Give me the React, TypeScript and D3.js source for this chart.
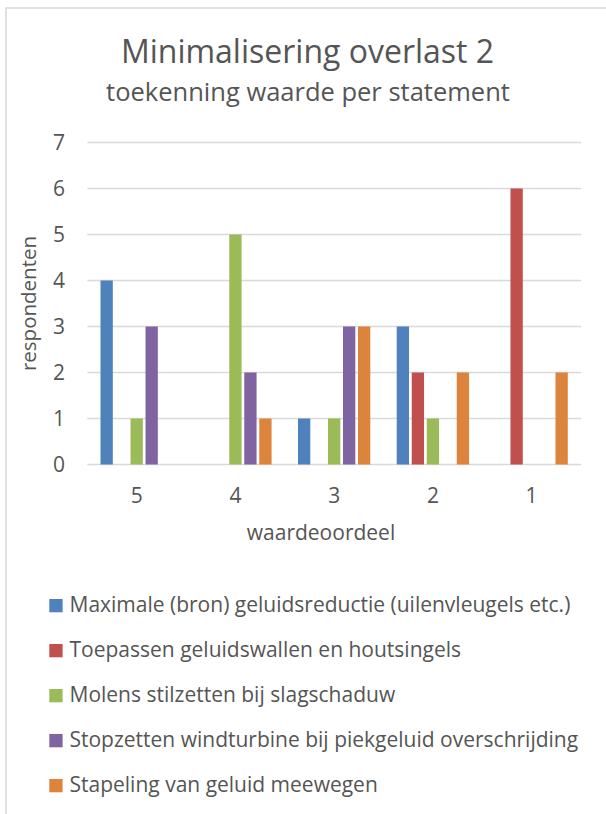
import React from 'react';
import * as d3 from 'd3';

// waardeoordeel categories (x axis, left to right)
const categories = ['5', '4', '3', '2', '1'];

const seriesNames = [
  'Maximale (bron) geluidsreductie (uilenvleugels etc.)',
  'Toepassen geluidswallen en houtsingels',
  'Molens stilzetten bij slagschaduw',
  'Stopzetten windturbine bij piekgeluid overschrijding',
  'Stapeling van geluid meewegen',
];

const seriesColors = ['#4F81BD', '#C0504D', '#9BBB59', '#8064A2', '#DD843C'];

// respondenten per category, one array per series
const maximale = [4, 0, 1, 3, 0];
const toepassen = [0, 0, 0, 2, 6];
const molens = [1, 5, 1, 1, 0];
const stopzetten = [3, 2, 3, 0, 0];
const stapeling = [0, 1, 3, 2, 2];

const seriesValues = [maximale, toepassen, molens, stopzetten, stapeling];

const yTicks = [0, 1, 2, 3, 4, 5, 6, 7];

const W = 606;
const H = 814;
const plot = { left: 87.3, right: 581, top: 142.5, bottom: 464.5 };
const textColor = '#555555';
const gridColor = '#D9D9D9';
const font = '"Open Sans", sans-serif';

export default function App() {
  const x = d3.scaleBand<string>().domain(categories).range([plot.left, plot.right]);
  const inner = d3
    .scaleBand<string>()
    .domain(seriesNames)
    .range([0, x.bandwidth()])
    .paddingInner(0.18)
    .paddingOuter(0.88);
  const y = d3.scaleLinear().domain([0, 7]).range([plot.bottom, plot.top]);

  return (
    <svg
      width={W}
      height={H}
      style={{ position: 'absolute', left: 0, top: 0, background: '#fff' }}
      fontFamily={font}
    >
      <rect x={6} y={8} width={W + 20} height={H + 20} fill="#fff" stroke={gridColor} strokeWidth={1.5} />

      <text x={307.5} y={63} textAnchor="middle" fontSize={32} fill={textColor}>
        Minimalisering overlast 2
      </text>
      <text x={308} y={101} textAnchor="middle" fontSize={25.5} fill={textColor}>
        toekenning waarde per statement
      </text>

      {/* gridlines + y labels */}
      {yTicks.map(t => (
        <g key={t}>
          <line
            x1={plot.left}
            x2={plot.right}
            y1={y(t)}
            y2={y(t)}
            stroke={gridColor}
            strokeWidth={t === 0 ? 1.6 : 1.3}
          />
          <text x={65} y={y(t)} dy="0.36em" textAnchor="end" fontSize={21} fill={textColor}>
            {t}
          </text>
        </g>
      ))}

      {/* bars */}
      {seriesValues.map((vals, si) => (
        <g key={si} fill={seriesColors[si]}>
          {vals.map((v, ci) =>
            v > 0 ? (
              <rect
                key={ci}
                x={(x(categories[ci]) ?? 0) + (inner(seriesNames[si]) ?? 0)}
                y={y(v)}
                width={inner.bandwidth()}
                height={y(0) - y(v)}
              />
            ) : null
          )}
        </g>
      ))}

      {/* x labels */}
      {categories.map(c => (
        <text
          key={c}
          x={(x(c) ?? 0) + x.bandwidth() / 2}
          y={503}
          textAnchor="middle"
          fontSize={21}
          fill={textColor}
        >
          {c}
        </text>
      ))}

      <text x={321} y={540} textAnchor="middle" fontSize={21} fill={textColor}>
        waardeoordeel
      </text>
      <text
        transform={`translate(36,${(plot.top + plot.bottom) / 2}) rotate(-90)`}
        textAnchor="middle"
        fontSize={20.5}
        fill={textColor}
      >
        respondenten
      </text>

      {/* legend */}
      {seriesNames.map((name, i) => (
        <g key={name} transform={`translate(49.3,${599 + i * 45})`}>
          <rect width={13.3} height={13.3} fill={seriesColors[i]} />
          <text x={20.2} y={13.3} fontSize={21} fill={textColor}>
            {name}
          </text>
        </g>
      ))}
    </svg>
  );
}
